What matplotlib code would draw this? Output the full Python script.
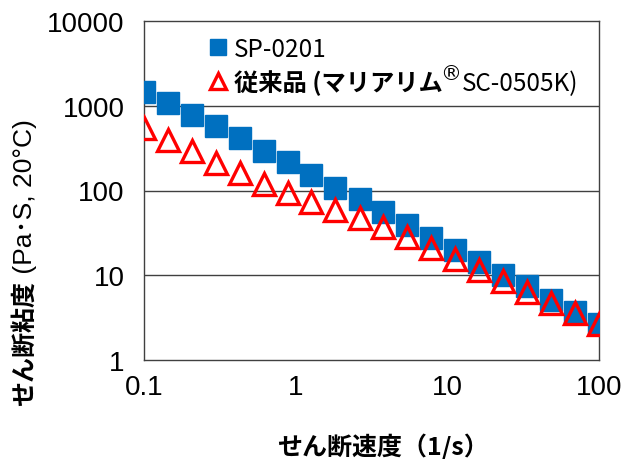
import matplotlib
matplotlib.use("Agg")
import matplotlib.pyplot as plt
from matplotlib.ticker import FixedLocator, FixedFormatter, NullLocator
from matplotlib.transforms import IdentityTransform

# Data
shear_rate = [0.1, 0.144, 0.207, 0.298, 0.428, 0.616, 0.886, 1.27, 1.83, 2.64,
              3.79, 5.46, 7.85, 11.3, 16.2, 23.4, 33.6, 48.3, 69.5, 100]
sp0201 = [1470, 1080, 787, 574, 417, 295, 215, 152, 108, 78.7,
          55.2, 39.1, 27.7, 20.0, 14.2, 10.0, 7.38, 5.12, 3.69, 2.69]
conventional = [548, 395, 291, 211, 160, 120, 93.3, 73.1, 59.3, 46.9,
                36.7, 28.0, 20.9, 15.5, 11.6, 8.45, 6.43, 4.68, 3.57, 2.64]
x_ticks = [0.1, 1, 10, 100]
x_tick_labels = ["0.1", "1", "10", "100"]
y_ticks = [1, 10, 100, 1000, 10000]
y_tick_labels = ["1", "10", "100", "1000", "10000"]
label_sp = "SP-0201"
label_conv_pre = "従来品 (マリアリム"
label_conv_reg = "®"
label_conv_post = "SC-0505K)"
xlabel = "せん断速度（1/s）"
ylabel_main = "せん断粘度"
ylabel_unit = " (Pa･S, 20°C)"

plt.rcParams['font.family'] = ['Noto Sans CJK JP', 'DejaVu Sans']

W, H = 641, 460
fig = plt.figure(figsize=(W/100, H/100), dpi=100)
ax = fig.add_axes([144/W, 1-361/H, 455/W, 339/H])
ax.set_xscale('log')
ax.set_yscale('log')
ax.set_xlim(0.1, 100)
ax.set_ylim(1, 10000)

for yv in y_ticks[1:-1]:
    ax.axhline(yv, color='#404040', lw=1.0, zorder=1)

ax.plot(shear_rate, sp0201, linestyle='none', marker='s', markersize=15.5,
        color='#0070C0', markeredgecolor='#0070C0', zorder=3, label=label_sp)
ax.plot(shear_rate, conventional, linestyle='none', marker='^', markersize=15.5,
        markerfacecolor='none', markeredgecolor='#FF0000', markeredgewidth=2.4,
        zorder=4, label=label_conv_pre)

ax.xaxis.set_major_locator(FixedLocator(x_ticks))
ax.xaxis.set_major_formatter(FixedFormatter(x_tick_labels))
ax.xaxis.set_minor_locator(NullLocator())
ax.yaxis.set_major_locator(FixedLocator(y_ticks))
ax.yaxis.set_major_formatter(FixedFormatter(y_tick_labels))
ax.yaxis.set_minor_locator(NullLocator())
ax.tick_params(axis='both', length=0, labelsize=20,
               labelfontfamily='Liberation Sans', labelcolor='black')
ax.tick_params(axis='x', pad=10)
ax.tick_params(axis='y', pad=14)

for sp in ax.spines.values():
    sp.set_color('#404040')
    sp.set_linewidth(1.0)

LFS = 17.5
leg = ax.legend(loc='upper left', bbox_to_anchor=(0.11, 1.0), frameon=False,
                fontsize=LFS, markerscale=0.72, handlelength=0.8,
                handletextpad=0.25, labelspacing=0.3, borderaxespad=0.2)
leg.get_texts()[1].set_fontweight('bold')

fig.text(383/W, 1-447/H, xlabel, ha='center', va='center',
         fontsize=18, fontweight='bold')

fig.canvas.draw()
rend = fig.canvas.get_renderer()

# y label: bold main part + regular unit part, stacked bottom-to-top
yl1 = fig.text(25/W, (H-406)/H, ylabel_main, ha='center', va='bottom',
               rotation=90, fontsize=18, fontweight='bold')
ext1 = yl1.get_window_extent(rend)
fig.text(25/W, ext1.y1/H, ylabel_unit, ha='center', va='bottom',
         rotation=90, fontsize=19, family=['Liberation Sans', 'Noto Sans CJK JP'])

# rest of the second legend entry: superscript registered mark + product code
t2 = leg.get_texts()[1]
ext2 = t2.get_window_extent(rend)
x0, yb = t2.get_transform().transform(t2.get_position())
treg = fig.text(ext2.x1 - 3, yb + 11, label_conv_reg, transform=IdentityTransform(),
                ha='left', va='baseline', fontsize=15, family=['DejaVu Sans'],
                color='black')
ext3 = treg.get_window_extent(rend)
fig.text(ext3.x1 + 1, yb, label_conv_post, transform=IdentityTransform(),
         ha='left', va='baseline', fontsize=LFS, color='black')

fig.savefig('out.png', dpi=100)
